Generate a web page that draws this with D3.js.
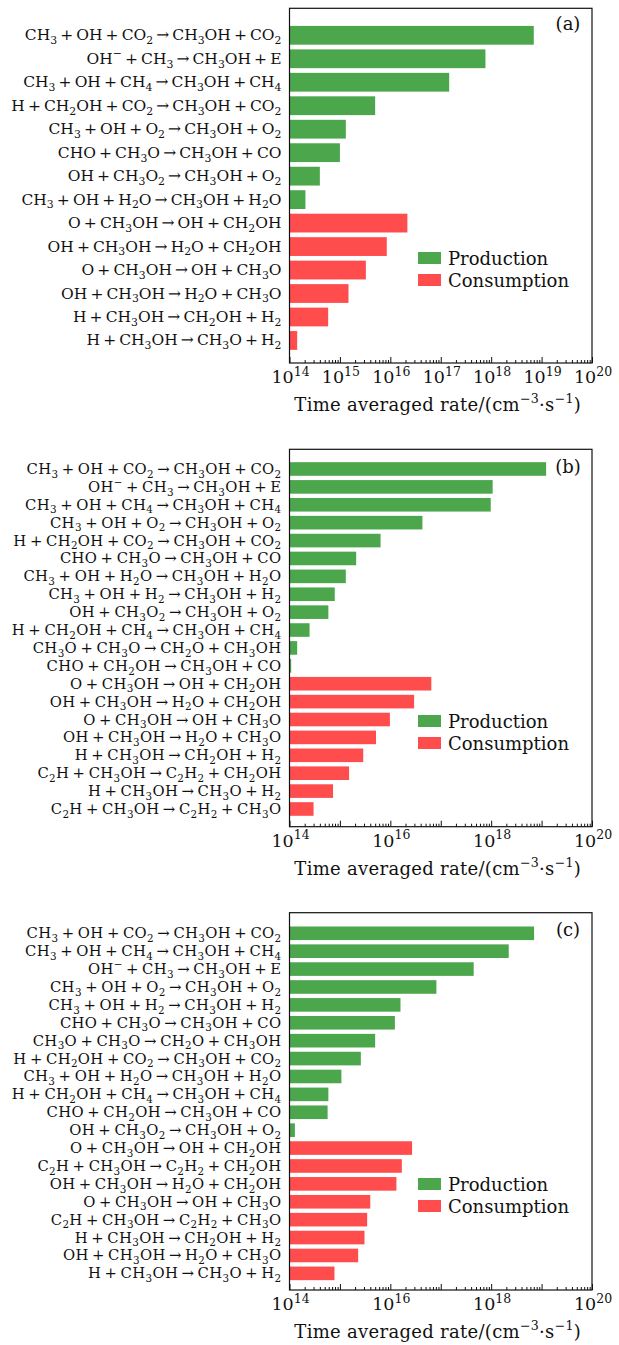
<!DOCTYPE html>
<html>
<head>
<meta charset="utf-8">
<script src="https://cdn.jsdelivr.net/npm/d3@7"></script>
<style>
  body { margin: 0; background: #fff; }
  svg { display: block; }
  text { font-family: "DejaVu Serif", serif; fill: #111; }
</style>
</head>
<body>
<svg id="chart" width="619" height="1345"></svg>
<script>
// ---- data ----
const reactionsA = [
  'CH_3+OH+CO_2→CH_3OH+CO_2', 'OH^−+CH_3→CH_3OH+E', 'CH_3+OH+CH_4→CH_3OH+CH_4',
  'H+CH_2OH+CO_2→CH_3OH+CO_2', 'CH_3+OH+O_2→CH_3OH+O_2', 'CHO+CH_3O→CH_3OH+CO',
  'OH+CH_3O_2→CH_3OH+O_2', 'CH_3+OH+H_2O→CH_3OH+H_2O',
  'O+CH_3OH→OH+CH_2OH', 'OH+CH_3OH→H_2O+CH_2OH', 'O+CH_3OH→OH+CH_3O',
  'OH+CH_3OH→H_2O+CH_3O', 'H+CH_3OH→CH_2OH+H_2', 'H+CH_3OH→CH_3O+H_2'
]
const ratesA = [7.0e18, 7.7e17, 1.47e17, 5.0e15, 1.31e15, 1.0e15, 4.0e14, 2.07e14,
  2.18e16, 8.5e15, 3.27e15, 1.48e15, 5.85e14, 1.42e14]
const kindsA = ['P', 'P', 'P', 'P', 'P', 'P', 'P', 'P', 'C', 'C', 'C', 'C', 'C', 'C']

const reactionsB = [
  'CH_3+OH+CO_2→CH_3OH+CO_2', 'OH^−+CH_3→CH_3OH+E', 'CH_3+OH+CH_4→CH_3OH+CH_4',
  'CH_3+OH+O_2→CH_3OH+O_2', 'H+CH_2OH+CO_2→CH_3OH+CO_2', 'CHO+CH_3O→CH_3OH+CO',
  'CH_3+OH+H_2O→CH_3OH+H_2O', 'CH_3+OH+H_2→CH_3OH+H_2', 'OH+CH_3O_2→CH_3OH+O_2',
  'H+CH_2OH+CH_4→CH_3OH+CH_4', 'CH_3O+CH_3O→CH_2O+CH_3OH', 'CHO+CH_2OH→CH_3OH+CO',
  'O+CH_3OH→OH+CH_2OH', 'OH+CH_3OH→H_2O+CH_2OH', 'O+CH_3OH→OH+CH_3O',
  'OH+CH_3OH→H_2O+CH_3O', 'H+CH_3OH→CH_2OH+H_2', 'C_2H+CH_3OH→C_2H_2+CH_2OH',
  'H+CH_3OH→CH_3O+H_2', 'C_2H+CH_3OH→C_2H_2+CH_3O'
]
const ratesB = [1.23e19, 1.07e18, 9.8e17, 4.33e16, 6.4e15, 2.1e15, 1.31e15, 7.9e14,
  5.9e14, 2.5e14, 1.42e14, 1.08e14,
  6.5e16, 2.96e16, 9.8e15, 5.2e15, 2.9e15, 1.52e15, 7.3e14, 3.0e14]
const kindsB = ['P', 'P', 'P', 'P', 'P', 'P', 'P', 'P', 'P', 'P', 'P', 'P',
  'C', 'C', 'C', 'C', 'C', 'C', 'C', 'C']

const reactionsC = [
  'CH_3+OH+CO_2→CH_3OH+CO_2', 'CH_3+OH+CH_4→CH_3OH+CH_4', 'OH^−+CH_3→CH_3OH+E',
  'CH_3+OH+O_2→CH_3OH+O_2', 'CH_3+OH+H_2→CH_3OH+H_2', 'CHO+CH_3O→CH_3OH+CO',
  'CH_3O+CH_3O→CH_2O+CH_3OH', 'H+CH_2OH+CO_2→CH_3OH+CO_2', 'CH_3+OH+H_2O→CH_3OH+H_2O',
  'H+CH_2OH+CH_4→CH_3OH+CH_4', 'CHO+CH_2OH→CH_3OH+CO', 'OH+CH_3O_2→CH_3OH+O_2',
  'O+CH_3OH→OH+CH_2OH', 'C_2H+CH_3OH→C_2H_2+CH_2OH', 'OH+CH_3OH→H_2O+CH_2OH',
  'O+CH_3OH→OH+CH_3O', 'C_2H+CH_3OH→C_2H_2+CH_3O', 'H+CH_3OH→CH_2OH+H_2',
  'OH+CH_3OH→H_2O+CH_3O', 'H+CH_3OH→CH_3O+H_2'
]
const ratesC = [7.1e18, 2.23e18, 4.5e17, 8.2e16, 1.59e16, 1.23e16, 5.0e15, 2.6e15,
  1.07e15, 5.9e14, 5.7e14, 1.28e14,
  2.7e16, 1.69e16, 1.32e16, 4.0e15, 3.47e15, 3.07e15, 2.3e15, 7.8e14]
const kindsC = kindsB

const legendLabels = ['Production', 'Consumption']
const xDomain = [1e14, 1e20]

// ---- layout ----
const colors = { P: '#4ca64c', C: '#ff4c4c' }
const svg = d3.select('#chart')

// write a string with _sub and ^sup parts as tspans
function rich (sel, str, size) {
  const parts = []
  let i = 0
  while (i < str.length) {
    const c = str[i]
    if (c === '_' || c === '^') {
      let j = i + 1
      let t = ''
      while (j < str.length && /[0-9−]/.test(str[j])) { t += str[j]; j++ }
      parts.push({ t, mode: c })
      i = j
    } else {
      let j = i
      let t = ''
      while (j < str.length && str[j] !== '_' && str[j] !== '^') { t += str[j]; j++ }
      parts.push({ t, mode: '' })
      i = j
    }
  }
  let shift = 0
  parts.forEach(p => {
    const target = p.mode === '_' ? 0.25 * size : p.mode === '^' ? -0.42 * size : 0
    const txt = p.mode ? p.t : p.t.replace(/\+/g, '\u2009+\u2009').replace(/→/g, '\u2009→\u2009')
    sel.append('tspan')
      .attr('dy', target - shift)
      .attr('font-size', p.mode ? size * 0.7 : size)
      .text(txt)
    shift = target
  })
}

function drawPanel (cfg) {
  const { reactions, rates, kinds, top, bottom, padTop, padBottom, barFrac, tag, tagY, legendY, labelSize } = cfg
  const left = 289.5
  const right = 592
  const n = reactions.length

  const x = d3.scaleLog().domain(xDomain).range([left, right])
  const y = d3.scaleLinear().domain([-padTop, n - 1 + padBottom]).range([top, bottom])
  const step = y(1) - y(0)
  const g = svg.append('g')

  // bars
  g.selectAll('rect.bar')
    .data(rates)
    .enter()
    .append('rect')
    .attr('class', 'bar')
    .attr('x', x(xDomain[0]))
    .attr('y', (d, i) => y(i) - step * barFrac / 2)
    .attr('width', d => x(d) - x(xDomain[0]))
    .attr('height', step * barFrac)
    .attr('fill', (d, i) => colors[kinds[i]])

  // reaction labels
  reactions.forEach((r, i) => {
    const t = g.append('text')
      .attr('x', left - 8)
      .attr('y', y(i) + 5)
      .attr('text-anchor', 'end')
      .attr('font-size', labelSize)
      .attr('letter-spacing', (15.5 - labelSize) * 0.5)
    rich(t, r, labelSize)
  })

  // ticks: major every decade, minor 2..9, pointing inward
  const majors = d3.range(14, 21).map(e => Math.pow(10, e))
  const minors = []
  d3.range(14, 20).forEach(e => d3.range(2, 10).forEach(m => minors.push(m * Math.pow(10, e))))
  g.append('g')
    .attr('transform', `translate(0,${bottom})`)
    .call(d3.axisBottom(x).tickValues(minors).tickSize(-3).tickFormat(''))
    .call(a => a.select('.domain').remove())
  g.append('g')
    .attr('transform', `translate(0,${bottom})`)
    .call(d3.axisBottom(x).tickValues(majors).tickSize(-6).tickFormat(''))
    .call(a => a.select('.domain').remove())
  g.selectAll('.tick line').attr('stroke', '#111').attr('stroke-width', 1)

  // tick labels 10^n
  majors.filter((d, i) => i % cfg.labelEvery === 0).forEach(v => {
    const t = g.append('text')
      .attr('x', x(v) + 1)
      .attr('y', bottom + 20)
      .attr('text-anchor', 'middle')
      .attr('font-size', 17.5)
    t.append('tspan').text('10')
    t.append('tspan').attr('dy', -7.5).attr('font-size', 12.5).text(Math.round(Math.log10(v)))
  })

  // frame
  g.append('rect')
    .attr('x', left).attr('y', top)
    .attr('width', right - left).attr('height', bottom - top)
    .attr('fill', 'none').attr('stroke', '#111').attr('stroke-width', 1.2)

  // axis title
  const title = g.append('text')
    .attr('x', (left + right) / 2 - 3)
    .attr('y', bottom + 48)
    .attr('text-anchor', 'middle')
    .attr('font-size', 18)
    .attr('letter-spacing', 0.3)
  rich(title, 'Time averaged rate/(cm^−3·s^−1)', 18)

  // panel tag
  g.append('text')
    .attr('x', 568).attr('y', tagY)
    .attr('text-anchor', 'middle')
    .attr('font-size', 18)
    .text(tag)

  // legend
  const leg = g.append('g').attr('transform', `translate(418,${legendY})`)
  legendLabels.forEach((l, i) => {
    leg.append('rect')
      .attr('x', 0).attr('y', i * 22)
      .attr('width', 23).attr('height', 12)
      .attr('fill', colors[i === 0 ? 'P' : 'C'])
    leg.append('text')
      .attr('x', 30).attr('y', i * 22 + 12.5)
      .attr('font-size', 18)
      .text(l)
  })
}

drawPanel({ reactions: reactionsA, rates: ratesA, kinds: kindsA, top: 8.3, bottom: 363,
  padTop: 1.15, padBottom: 0.96, barFrac: 0.8, tag: '(a)', tagY: 30, legendY: 252, labelEvery: 1, labelSize: 15.5 })
drawPanel({ reactions: reactionsB, rates: ratesB, kinds: kindsB, top: 449.3, bottom: 826.7,
  padTop: 1.1, padBottom: 0.99, barFrac: 0.76, tag: '(b)', tagY: 473, legendY: 715, labelEvery: 2, labelSize: 14.8 })
drawPanel({ reactions: reactionsC, rates: ratesC, kinds: kindsC, top: 912.7, bottom: 1290,
  padTop: 1.15, padBottom: 0.93, barFrac: 0.76, tag: '(c)', tagY: 936, legendY: 1178, labelEvery: 2, labelSize: 14.8 })
</script>
</body>
</html>
